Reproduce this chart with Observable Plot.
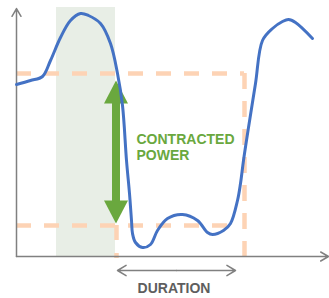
<!DOCTYPE html>
<html>
<head>
<meta charset="utf-8">
<script src="https://cdn.jsdelivr.net/npm/d3@7"></script>
<script src="https://cdn.jsdelivr.net/npm/@observablehq/plot@0.6"></script>
<style>
  html, body { margin: 0; padding: 0; background: #fff; }
  #chart svg { display: block; }
</style>
</head>
<body>
<div id="chart"></div>
<script>
// Schematic power-versus-time curve (arbitrary units)
const curveTime  = [0, 14, 26, 34, 44, 54, 64, 72, 84, 94, 101, 106, 110, 113, 115, 116, 119, 126, 134, 141, 151, 166, 181, 191, 196, 207, 214, 221, 224, 227, 232, 239, 246, 256, 266, 272, 279, 296];
const curvePower = [172, 176, 180, 196, 219, 236, 243, 241, 233, 213, 183, 151, 96, 63, 36, 23, 14, 9, 12, 26, 38, 42, 36, 24, 22, 26, 33, 56, 73, 96, 129, 173, 216, 228, 235, 237, 234, 218];

// Reference levels and windows
const upperLevel = 183;          // contracted power ceiling
const lowerLevel = 31;           // base level
const durationStart = 100;
const durationEnd = 228;
const lowerLineEnd = 214;
const peakWindow = [40, 99];
const windowTop = 249;
const arrowX = 99.5;
const arrowTip = [176, 33];
const durationArrow = [101, 219];
const durationY = -14;
const axisEnd = {x: 312, y: 248};

const labelPower = ["CONTRACTED", "POWER"];
const labelPowerY = [117, 101];
const labelDuration = "DURATION";

const curve = curveTime.map((t, i) => ({t, p: curvePower[i]}));

const green = "#6aa83e";
const peach = "#fdd3b5";
const blue = "#4472c4";
const grey = "#808080";
const font = "Liberation Sans, Arial, Helvetica, sans-serif";
const headLen = 23, headHalf = 12;

const topHead = [
  {x: arrowX - headHalf, y: arrowTip[0] - headLen},
  {x: arrowX, y: arrowTip[0]},
  {x: arrowX + headHalf, y: arrowTip[0] - headLen}
];
const botHead = [
  {x: arrowX - headHalf, y: arrowTip[1] + headLen},
  {x: arrowX, y: arrowTip[1]},
  {x: arrowX + headHalf, y: arrowTip[1] + headLen}
];
const durMid = (durationArrow[0] + durationArrow[1]) / 2;

const chart = Plot.plot({
  width: 329,
  height: 298,
  marginTop: 0, marginRight: 0, marginBottom: 0, marginLeft: 0,
  style: {background: "#fff", fontFamily: font},
  x: {domain: [-16, 313], range: [0, 329], axis: null},
  y: {domain: [-42, 256], range: [298, 0], axis: null},
  marks: [
    // highlighted peak window
    Plot.rect([0], {x1: peakWindow[0], x2: peakWindow[1], y1: 0, y2: windowTop, fill: "#e8eee6"}),
    // dashed reference lines
    Plot.ruleY([upperLevel], {x1: 0, x2: durationEnd, stroke: peach, strokeWidth: 4.5, strokeDasharray: "15,13"}),
    Plot.ruleY([lowerLevel], {x1: 0, x2: lowerLineEnd, stroke: peach, strokeWidth: 4.5, strokeDasharray: "15,13"}),
    Plot.ruleX([durationStart], {y1: lowerLevel, y2: -2, stroke: peach, strokeWidth: 4.5, strokeDasharray: "15,13"}),
    Plot.ruleX([durationEnd], {y1: upperLevel, y2: -2, stroke: peach, strokeWidth: 4.5, strokeDasharray: "16,12"}),
    // axes
    Plot.arrow([0], {x1: 0, y1: 0, x2: 0, y2: axisEnd.y, stroke: grey, strokeWidth: 1.5, headLength: 9, headAngle: 60}),
    Plot.arrow([0], {x1: 0, y1: 0, x2: axisEnd.x, y2: 0, stroke: grey, strokeWidth: 1.5, headLength: 9, headAngle: 60}),
    // contracted power arrow
    Plot.ruleX([arrowX], {y1: arrowTip[1] + headLen - 1, y2: arrowTip[0] - headLen + 1, stroke: green, strokeWidth: 8}),
    Plot.line(topHead, {x: "x", y: "y", fill: green, stroke: "none"}),
    Plot.line(botHead, {x: "x", y: "y", fill: green, stroke: "none"}),
    // power curve
    Plot.line(curve, {x: "t", y: "p", stroke: blue, strokeWidth: 3, curve: "catmull-rom"}),
    // duration arrow
    Plot.arrow([0], {x1: durMid, y1: durationY, x2: durationArrow[0], y2: durationY, stroke: grey, strokeWidth: 1.5, headLength: 10, headAngle: 62}),
    Plot.arrow([0], {x1: durMid, y1: durationY, x2: durationArrow[1], y2: durationY, stroke: grey, strokeWidth: 1.5, headLength: 10, headAngle: 62}),
    // labels
    Plot.text(labelPower, {x: 120, y: (d, i) => labelPowerY[i], text: d => d, textAnchor: "start", fill: green, fontSize: 14, fontWeight: "bold", fontFamily: font}),
    Plot.text([labelDuration], {x: 157.5, y: -32.5, text: d => d, textAnchor: "middle", fill: "#5e5e5e", fontSize: 14, fontWeight: "bold", fontFamily: font})
  ]
});
document.getElementById("chart").appendChild(chart);
</script>
</body>
</html>
